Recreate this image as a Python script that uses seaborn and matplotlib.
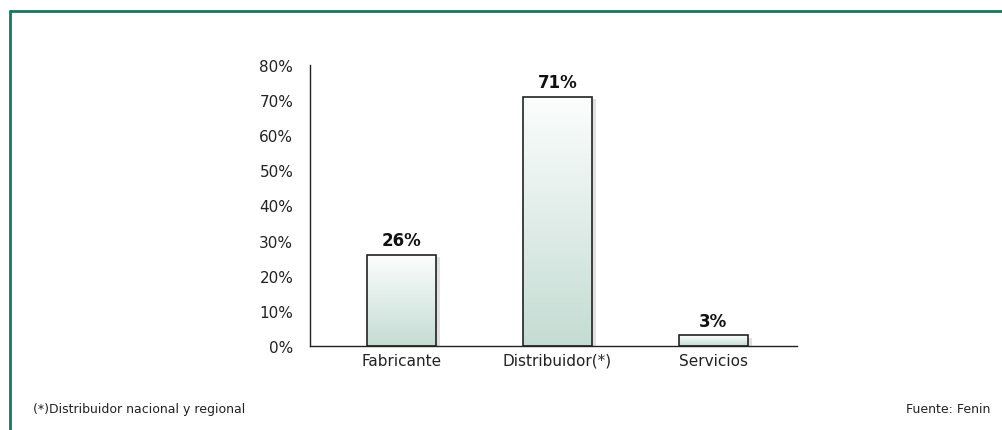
import matplotlib
matplotlib.use("Agg")
import matplotlib.pyplot as plt
import matplotlib.patheffects as pe
import seaborn as sns
import pandas as pd
import numpy as np
from matplotlib.colors import LinearSegmentedColormap
from matplotlib.patches import Rectangle

# chart values
categories = ["Fabricante", "Distribuidor(*)", "Servicios"]
shares = [26, 71, 3]
value_labels = ["26%", "71%", "3%"]
yticks = [0, 10, 20, 30, 40, 50, 60, 70, 80]

df = pd.DataFrame({"tipo": categories, "pct": shares})

sns.set_style("white")
plt.rcParams['font.family'] = ['DejaVu Sans']

fig = plt.figure(figsize=(10.03, 4.31), dpi=100)
ax = fig.add_axes([0.309, 0.195, 0.486, 0.652])

sns.barplot(data=df, x="tipo", y="pct", ax=ax, width=0.44,
            color="white", edgecolor="none", linewidth=0)

# gradient fill + soft shadow for each bar
cmap = LinearSegmentedColormap.from_list("g", ["#c4dcd3", "#fcfefd"])
grad = np.linspace(0, 1, 256).reshape(-1, 1)
for p in list(ax.patches):
    x0, y0 = p.get_x(), p.get_y()
    w, h = p.get_width(), p.get_height()
    z = p.get_zorder()
    p.set_path_effects([pe.SimplePatchShadow(offset=(3, -2), shadow_rgbFace="#888888", alpha=0.25),
                        pe.Normal()])
    im = ax.imshow(grad, cmap=cmap, aspect="auto", origin="lower",
                   extent=[x0, x0 + w, y0, y0 + h], zorder=z + 0.1)
    im.set_clip_path(p)
    ax.add_patch(Rectangle((x0, y0), w, h, facecolor="none", edgecolor="#222222",
                           linewidth=1.2, zorder=z + 0.2))

for i, (v, lab) in enumerate(zip(shares, value_labels)):
    ax.text(i, v + 1.5, lab, ha="center", va="bottom", fontsize=12,
            fontweight="bold", color="#111111")

ax.set_xlim(-0.587, 2.54)
ax.set_ylim(0, 80)
ax.set_yticks(yticks)
ax.set_yticklabels([f"{t}%" for t in yticks])
ax.set_xlabel("")
ax.set_ylabel("")
ax.tick_params(axis="both", length=0, labelsize=11, colors="#222222")
ax.tick_params(axis="y", pad=12)
ax.tick_params(axis="x", pad=5)
sns.despine(ax=ax, top=True, right=True)
for s in ["left", "bottom"]:
    ax.spines[s].set_color("#222222")
    ax.spines[s].set_linewidth(1.0)

# green frame (top and left)
frame = "#16785c"
fig.add_artist(plt.Line2D([10 / 1003, 1], [1 - 12 / 431, 1 - 12 / 431], color=frame, lw=2,
                          transform=fig.transFigure))
fig.add_artist(plt.Line2D([10 / 1003, 10 / 1003], [0, 1 - 12 / 431], color=frame, lw=2,
                          transform=fig.transFigure))

fig.text(33 / 1003, 1 - 410 / 431, "(*)Distribuidor nacional y regional", fontsize=9,
         va="center", ha="left", color="#222222")
fig.text(990 / 1003, 1 - 410 / 431, "Fuente: Fenin", fontsize=9,
         va="center", ha="right", color="#222222")

fig.savefig("out.png", dpi=100)
